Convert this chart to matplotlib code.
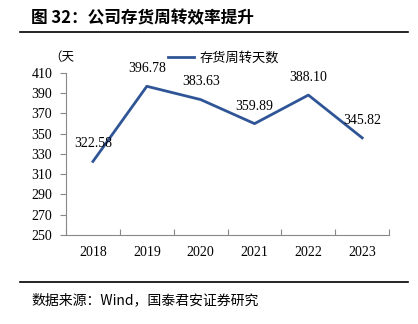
import numpy as np
import matplotlib.pyplot as plt
from matplotlib.lines import Line2D

# dados do grafico
anos = ['2018', '2019', '2020', '2021', '2022', '2023']
dias = [322.58, 396.78, 383.63, 359.89, 388.10, 345.82]
yticks = [250, 270, 290, 310, 330, 350, 370, 390, 410]

cor = '#2F5597'
cjk = ['Noto Sans CJK SC', 'DejaVu Sans']
num = ['Liberation Serif', 'Noto Sans CJK SC']

fig = plt.figure(figsize=(4.18, 3.24), dpi=100)
ax = fig.add_axes([0.158, 0.275, 0.773, 0.500])

x = np.arange(len(anos))
ax.plot(x, dias, '-', color=cor, lw=2.0, label='存货周转天数')
for xi, v in zip(x, dias):
    ax.annotate('%.2f' % v, (xi, v), xytext=(0, 8), textcoords='offset points',
                ha='center', va='bottom', fontsize=10, family=num)

ax.set_xlim(-0.5, len(anos) - 0.5)
ax.set_ylim(250, 410)
ax.set_yticks(yticks)
ax.set_yticklabels([str(t) for t in yticks], family=num, fontsize=10)
ax.set_xticks(np.arange(-0.5, len(anos), 1.0))
ax.set_xticklabels([])
ax.set_xticks(x, minor=True)
ax.set_xticklabels(anos, minor=True, family=num, fontsize=10)
ax.tick_params(axis='x', which='major', direction='in', length=4, color='#888888')
ax.tick_params(axis='x', which='minor', length=0, pad=8)
ax.tick_params(axis='y', direction='out', length=4, color='#888888', pad=6)
for s in ['top', 'right']:
    ax.spines[s].set_visible(False)
for s in ['left', 'bottom']:
    ax.spines[s].set_color('#888888')
    ax.spines[s].set_linewidth(0.8)

# unidade
fig.text(0.118, 0.822, '（天', family=cjk, fontsize=9, ha='left', va='center')

# legenda
h = [Line2D([0], [0], color=cor, lw=2.0)]
fig.legend(h, ['存货周转天数'], loc='center left', bbox_to_anchor=(0.385, 0.822),
           frameon=False, handlelength=2.0, handletextpad=0.4, borderpad=0,
           prop={'family': cjk, 'size': 9.5})

# titulo e linhas
fig.text(0.075, 0.945, '图 32：公司存货周转效率提升', family=cjk, fontsize=12,
         fontweight='bold', ha='left', va='center')
fig.add_artist(Line2D([0.048, 0.976], [0.901, 0.901], color='black', lw=1.2))
fig.add_artist(Line2D([0.048, 0.976], [0.130, 0.130], color='black', lw=1.2))
fig.text(0.075, 0.073, '数据来源：Wind，国泰君安证券研究', family=cjk, fontsize=10,
         ha='left', va='center')

fig.savefig('out.png', dpi=100)
plt.close()
